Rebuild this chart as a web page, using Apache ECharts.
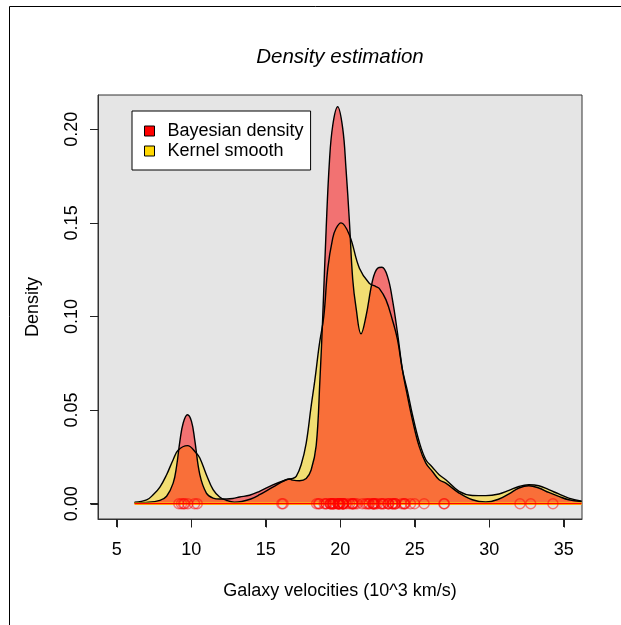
<!DOCTYPE html>
<html>
<head>
<meta charset="utf-8">
<script src="https://cdn.jsdelivr.net/npm/echarts@6/dist/echarts.min.js"></script>
<style>html,body{margin:0;padding:0;background:#fff;}#c{width:621px;height:625px;}</style>
</head>
<body>
<div id="c"></div>
<script>
// ---- Data ----
const bayesX = [6.2, 7.0, 7.9, 8.35, 8.79, 9.02, 9.24, 9.46, 9.75, 10.02, 10.24, 10.58, 11.02, 11.47, 11.91, 12.8, 13.25, 13.92, 14.59, 15.48, 16.38, 16.6, 16.82, 17.27, 17.72, 18.05, 18.39, 18.64, 18.83, 19.06, 19.28, 19.5, 19.83, 20.17, 20.39, 20.62, 20.84, 21.06, 21.4, 21.73, 22.18, 22.51, 22.8, 23.18, 23.51, 23.85, 24.18, 24.52, 24.85, 25.3, 25.75, 26.19, 26.64, 27.09, 27.98, 28.87, 29.77, 30.66, 31.33, 32.0, 32.66, 33.33, 34.0, 34.67, 35.34, 36.2];
const bayesY = [0.0005, 0.0007, 0.0018, 0.004, 0.011, 0.020, 0.0333, 0.043, 0.0475, 0.044, 0.034, 0.0155, 0.0057, 0.003, 0.0025, 0.0028, 0.0036, 0.0045, 0.0066, 0.010, 0.0128, 0.0132, 0.0126, 0.0123, 0.0135, 0.018, 0.031, 0.066, 0.100, 0.147, 0.183, 0.202, 0.212, 0.2005, 0.179, 0.1506, 0.12, 0.105, 0.0907, 0.100, 0.1195, 0.1258, 0.1263, 0.1213, 0.1089, 0.091, 0.0715, 0.0573, 0.0448, 0.0306, 0.0217, 0.0172, 0.0128, 0.011, 0.0057, 0.0021, 0.0009, 0.0025, 0.0053, 0.0084, 0.0096, 0.0084, 0.006, 0.0039, 0.0021, 0.0012];

const kernelX = [6.2, 7.01, 7.45, 7.9, 8.35, 8.79, 9.12, 9.75, 10.35, 10.58, 11.02, 11.47, 11.91, 12.36, 12.9, 13.4, 14.0, 14.59, 15.48, 16.38, 16.82, 17.05, 17.38, 17.72, 18.05, 18.3, 18.6, 18.9, 19.17, 19.5, 19.72, 20.06, 20.62, 21.29, 21.95, 22.4, 22.62, 23.07, 23.51, 23.85, 24.18, 24.52, 24.85, 25.3, 25.75, 26.19, 26.64, 27.09, 27.98, 28.87, 29.77, 30.66, 31.33, 32.0, 32.66, 33.33, 34.0, 34.67, 35.34, 36.2];
const kernelY = [0.0008, 0.002, 0.0048, 0.0089, 0.0155, 0.0235, 0.0285, 0.031, 0.027, 0.0244, 0.0155, 0.0075, 0.0036, 0.0018, 0.0008, 0.0012, 0.0025, 0.0048, 0.0089, 0.0128, 0.0135, 0.0146, 0.0208, 0.0324, 0.052, 0.066, 0.085, 0.100, 0.1258, 0.1418, 0.147, 0.150, 0.1435, 0.1258, 0.1178, 0.116, 0.115, 0.109, 0.098, 0.0875, 0.0715, 0.060, 0.0475, 0.0332, 0.0235, 0.0195, 0.0155, 0.0128, 0.0066, 0.0044, 0.0043, 0.0052, 0.0071, 0.0092, 0.0101, 0.0096, 0.0075, 0.0052, 0.003, 0.0013];

// observed velocities (rug)
const galaxies = [9.172, 9.350, 9.483, 9.558, 9.775, 10.227, 10.406, 16.084, 16.170, 18.419, 18.552, 18.600, 18.927, 19.052, 19.070, 19.330, 19.343, 19.349, 19.440, 19.473, 19.529, 19.541, 19.547, 19.663, 19.846, 19.856, 19.863, 19.914, 19.918, 19.973, 19.989, 20.166, 20.175, 20.179, 20.196, 20.215, 20.221, 20.415, 20.629, 20.795, 20.821, 20.846, 20.875, 20.986, 21.137, 21.492, 21.701, 21.814, 21.921, 21.960, 22.185, 22.209, 22.242, 22.249, 22.314, 22.374, 22.495, 22.746, 22.747, 22.888, 22.914, 23.206, 23.241, 23.263, 23.484, 23.538, 23.542, 23.666, 23.706, 23.711, 24.129, 24.285, 24.289, 24.366, 24.717, 24.990, 25.633, 26.960, 26.995, 32.065, 32.789, 34.279];

const xTicks = [5, 10, 15, 20, 25, 30, 35];
const yTicks = [0, 0.05, 0.10, 0.15, 0.20];
const seriesNames = ['Bayesian density', 'Kernel smooth'];
const baseRange = [6.2, 36.2];

// ---- Build ----
const zip = (xs, ys) => xs.map((x, i) => [x, ys[i]]);
const FONT = '"Liberation Sans", Arial, Helvetica, sans-serif';
const X_RANGE = {min: 3.746, max: 36.23};
const Y_RANGE = {min: -0.00817, max: 0.2183};
const TICK_LEN = 8;
const chart = echarts.init(document.getElementById('c'));

// tick marks drawn through the axes' own scales (api.coord)
function tickRenderer(isX) {
  return function (params, api) {
    const v = api.value(isX ? 0 : 1);
    const p = isX ? api.coord([v, Y_RANGE.min]) : api.coord([X_RANGE.min, v]);
    const px = Math.round(p[0]) + 0.5, py = Math.round(p[1]) + 0.5;
    return {
      type: 'line',
      shape: isX ? {x1: px, y1: py, x2: px, y2: py + TICK_LEN}
                 : {x1: px, y1: py, x2: px - TICK_LEN, y2: py},
      style: {stroke: '#222', lineWidth: 1}
    };
  };
}

const option = {
  animation: false,
  backgroundColor: '#ffffff',
  title: {
    text: 'Density estimation',
    left: 340, top: 47, textAlign: 'center', padding: 0,
    textStyle: {fontFamily: FONT, fontSize: 20.5, fontStyle: 'italic', fontWeight: 'normal', color: '#000'}
  },
  legend: {
    orient: 'vertical', left: 132, top: 111,
    padding: [10, 7, 9, 12],
    backgroundColor: '#ffffff', borderColor: '#000', borderWidth: 1,
    itemWidth: 10, itemHeight: 10, itemGap: 0, icon: 'rect',
    selectedMode: false,
    textStyle: {fontFamily: FONT, fontSize: 18, color: '#000', lineHeight: 20, padding: [0, 0, 0, 8]},
    data: [
      {name: seriesNames[0], itemStyle: {color: '#FF0000', borderColor: '#000', borderWidth: 1}},
      {name: seriesNames[1], itemStyle: {color: '#FFD700', borderColor: '#000', borderWidth: 1}}
    ]
  },
  grid: {left: 98, top: 95, right: 39, bottom: 106, show: true, backgroundColor: '#E5E5E5', borderColor: '#333'},
  xAxis: {
    type: 'value', min: X_RANGE.min, max: X_RANGE.max,
    name: 'Galaxy velocities (10^3 km/s)', nameLocation: 'middle', nameGap: 63,
    nameTextStyle: {fontFamily: FONT, fontSize: 18, color: '#000'},
    axisLine: {show: true, onZero: false, lineStyle: {color: '#333'}},
    axisTick: {show: true, length: TICK_LEN, lineStyle: {color: '#222', width: 1}, customValues: xTicks},
    axisLabel: {fontFamily: FONT, fontSize: 18, color: '#000', margin: 22, customValues: xTicks},
    splitLine: {show: false}
  },
  yAxis: {
    type: 'value', min: Y_RANGE.min, max: Y_RANGE.max,
    name: 'Density', nameLocation: 'middle', nameGap: 56, nameRotate: 90,
    nameTextStyle: {fontFamily: FONT, fontSize: 18, color: '#000'},
    axisLine: {show: true, onZero: false, lineStyle: {color: '#333'}},
    axisTick: {show: true, length: TICK_LEN, lineStyle: {color: '#222', width: 1}, customValues: yTicks},
    axisLabel: {fontFamily: FONT, fontSize: 18, color: '#000', margin: 17, rotate: 90,
      customValues: yTicks, formatter: v => v.toFixed(2)},
    splitLine: {show: false}
  },
  graphic: [{
    type: 'rect', silent: true, z: 100,
    shape: {x: 9.5, y: 6.5, width: 800, height: 800},
    style: {fill: 'transparent', stroke: '#000', lineWidth: 1}
  }],
  series: [
    {
      name: seriesNames[1], type: 'line', data: zip(kernelX, kernelY),
      smooth: 0.4, showSymbol: false, symbol: 'none',
      itemStyle: {color: '#FFD700'},
      lineStyle: {color: '#000', width: 1.4},
      areaStyle: {color: 'rgba(255,215,0,0.5)', opacity: 1},
      z: 2
    },
    {
      name: seriesNames[0], type: 'line', data: zip(bayesX, bayesY),
      smooth: 0.4, showSymbol: false, symbol: 'none',
      itemStyle: {color: '#FF0000'},
      lineStyle: {color: '#000', width: 1.4},
      areaStyle: {color: 'rgba(255,0,0,0.5)', opacity: 1},
      z: 2
    },
    {
      type: 'line', data: baseRange.map(x => [x, 0]), showSymbol: false, symbol: 'none',
      lineStyle: {color: '#FFD700', width: 2.6}, z: 3, silent: true
    },
    {
      type: 'line', data: baseRange.map(x => [x, 0]), showSymbol: false, symbol: 'none',
      lineStyle: {color: '#FF0000', width: 1.2}, z: 3, silent: true
    },
    {
      type: 'scatter', data: galaxies.map(v => [v, 0]), symbol: 'circle', symbolSize: 10,
      itemStyle: {color: 'rgba(0,0,0,0)', borderColor: 'rgba(255,0,0,0.6)', borderWidth: 1.5},
      z: 4, silent: true
    },
    {
      type: 'custom', clip: false, silent: true, z: 5,
      data: xTicks.map(v => [v, Y_RANGE.min]),
      renderItem: tickRenderer(true)
    },
    {
      type: 'custom', clip: false, silent: true, z: 5,
      data: yTicks.map(v => [X_RANGE.min, v]),
      renderItem: tickRenderer(false)
    }
  ]
};
chart.setOption(option);
</script>
</body>
</html>
